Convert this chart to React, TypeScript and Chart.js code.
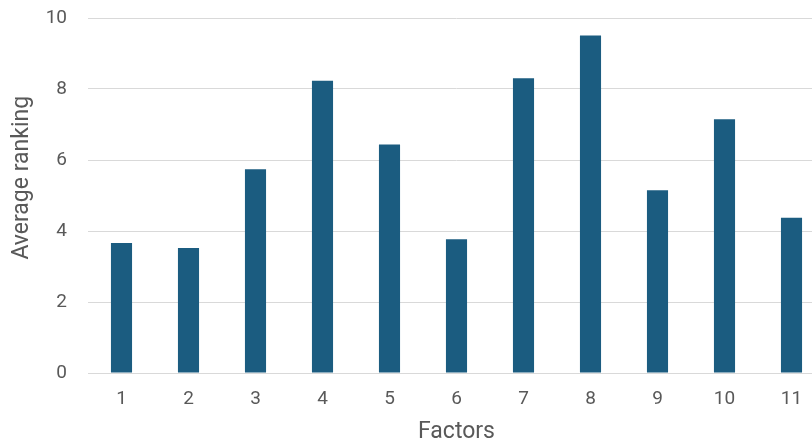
import React, { useEffect, useRef } from "react";
import { Chart, registerables } from "chart.js";

Chart.register(...registerables);

const categories = ["1", "2", "3", "4", "5", "6", "7", "8", "9", "10", "11"];
const averageRanking = [3.66, 3.52, 5.74, 8.23, 6.44, 3.77, 8.3, 9.51, 5.15, 7.15, 4.37];
const yTicks = [0, 2, 4, 6, 8, 10];
const xTitle = "Factors";
const yTitle = "Average ranking";

const FONT = "Roboto, 'Open Sans', sans-serif";
const TEXT = "#595959";

const yTitlePlugin = {
  id: "yTitleShifted",
  afterDraw(chart: any) {
    const ctx = chart.ctx;
    const area = chart.chartArea;
    ctx.save();
    ctx.translate(22, area.top + (area.bottom - area.top) * 0.45);
    ctx.rotate(-Math.PI / 2);
    ctx.fillStyle = TEXT;
    ctx.font = `23px ${FONT}`;
    ctx.textAlign = "center";
    ctx.textBaseline = "middle";
    ctx.fillText(yTitle, 0, 0);
    ctx.restore();
  },
};

export default function App() {
  const ref = useRef<HTMLCanvasElement | null>(null);
  useEffect(() => {
    if (!ref.current) return;
    const chart = new Chart(ref.current, {
      type: "bar",
      data: {
        labels: categories,
        datasets: [
          {
            label: yTitle,
            data: averageRanking,
            backgroundColor: "#1b5c80",
            categoryPercentage: 1,
            barPercentage: 0.315,
          },
        ],
      },
      options: {
        animation: false,
        responsive: false,
        maintainAspectRatio: false,
        layout: { padding: { top: 18, left: 4, right: 0, bottom: 2 } },
        plugins: { legend: { display: false }, tooltip: { enabled: false } },
        scales: {
          x: {
            grid: { display: false, drawTicks: false },
            border: { display: true, color: "#d9d9d9", width: 1 },
            ticks: { color: TEXT, font: { family: FONT, size: 19 }, padding: 15, maxRotation: 0 },
            title: {
              display: true,
              text: xTitle,
              color: TEXT,
              font: { family: FONT, size: 23 },
              padding: { top: 8, bottom: 0 },
            },
            afterFit: (axis: any) => {
              axis.height = 73;
              axis.paddingLeft = 0;
              axis.paddingRight = 0;
            },
          },
          y: {
            min: 0,
            max: 10,
            afterBuildTicks: (axis: any) => {
              axis.ticks = yTicks.map((v) => ({ value: v }));
            },
            grid: { color: "#d9d9d9", drawTicks: false },
            border: { display: false },
            ticks: { color: TEXT, font: { family: FONT, size: 19 }, padding: 21 },
            title: { display: false, text: yTitle },
            afterFit: (axis: any) => {
              axis.width = 84;
              axis.paddingTop = 0;
              axis.paddingBottom = 0;
            },
          },
        },
      },
      plugins: [yTitlePlugin],
    });
    return () => chart.destroy();
  }, []);
  return (
    <div style={{ position: "fixed", left: 0, top: 0, width: 812, height: 448, overflow: "hidden", background: "#fff" }}>
      <canvas ref={ref} width={825} height={448} style={{ display: "block" }} />
    </div>
  );
}
